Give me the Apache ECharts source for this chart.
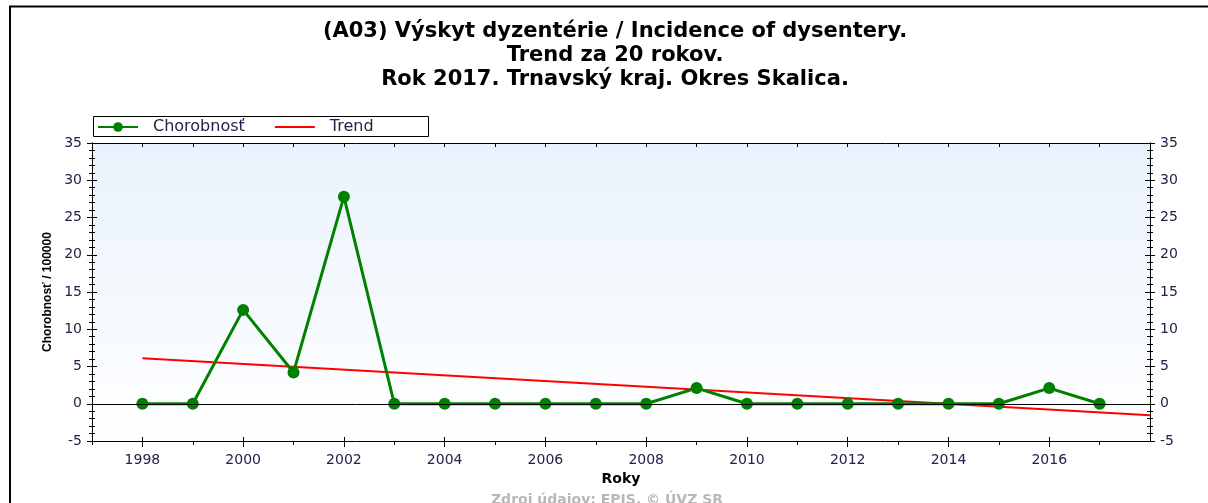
<!DOCTYPE html>
<html>
<head>
<meta charset="utf-8">
<script src="https://cdn.jsdelivr.net/npm/echarts@6/dist/echarts.min.js"></script>
<style>
html,body{margin:0;padding:0;background:#fff;}
#chart{width:1208px;height:503px;}
</style>
</head>
<body>
<div id="chart"></div>
<script>
// ---- data ----
var years = [1998,1999,2000,2001,2002,2003,2004,2005,2006,2007,2008,2009,2010,2011,2012,2013,2014,2015,2016,2017];
var incidence = [0,0,12.6,4.2,27.8,0,0,0,0,0,0,2.1,0,0,0,0,0,0,2.1,0];
var trendYears = [1998, 2018];
var trendValues = [6.1, -1.55];
var labelYears = [1998,2000,2002,2004,2006,2008,2010,2012,2014,2016];
var oddYears = [1997,1999,2001,2003,2005,2007,2009,2011,2013,2015,2017];
var titleLines = ['(A03) Výskyt dyzentérie / Incidence of dysentery.', 'Trend za 20 rokov.', 'Rok 2017. Trnavský kraj. Okres Skalica.'];
var seriesNames = ['Chorobnosť', 'Trend'];
var yAxisName = 'Chorobnosť / 100000';
var xAxisName = 'Roky';
var sourceText = 'Zdroj údajov: EPIS, © ÚVZ SR';

var FONT = '"DejaVu Sans", "Liberation Sans", Arial, sans-serif';
var LBL = '#22224a';

var chart = echarts.init(document.getElementById('chart'), null, {renderer: 'canvas'});

function yAx(pos, showLabel, inside) {
  return {
    type: 'value', position: pos, min: -5, max: 35, interval: 5,
    name: (pos === 'left' && showLabel) ? yAxisName : '',
    nameLocation: 'middle', nameGap: 37,
    nameTextStyle: {fontFamily: '"Liberation Sans", Arial, sans-serif', fontWeight: 'bold', fontSize: 12, color: '#000'},
    axisLine: {show: true, lineStyle: {color: '#000', width: 1}},
    axisTick: {show: true, inside: inside, length: 5, lineStyle: {color: '#000'}},
    minorTick: {show: true, splitNumber: 5, length: 3, lineStyle: {color: '#000'}},
    axisLabel: {show: showLabel, fontFamily: FONT, fontSize: 14, color: LBL, margin: 10},
    splitLine: {show: false}
  };
}

var xData = years.map(function (y, i) { return [y, incidence[i]]; });
var tData = trendYears.map(function (y, i) { return [y, trendValues[i]]; });
var yearFmt = function (v) { return String(v); };

var option = {
  animation: false,
  backgroundColor: '#fff',
  title: {
    text: titleLines.join('\n'),
    left: 610, top: 15, textAlign: 'center',
    textStyle: {fontFamily: FONT, fontWeight: 'bold', fontSize: 21, lineHeight: 24, color: '#000'}
  },
  legend: {
    left: 97, top: 119, padding: 0, itemWidth: 40, itemHeight: 12, itemGap: 30,
    data: [
      {name: seriesNames[0]},
      {name: seriesNames[1], icon: 'path://M0,0H40V2H0Z'}
    ],
    textStyle: {fontFamily: FONT, fontSize: 16, color: LBL, padding: [0, 0, 0, 10]}
  },
  grid: {
    left: 92, right: 58, top: 143, bottom: 62,
    show: true, borderWidth: 0,
    backgroundColor: new echarts.graphic.LinearGradient(0, 0, 0, 1, [
      {offset: 0, color: '#e9f2fc'}, {offset: 1, color: '#ffffff'}
    ])
  },
  xAxis: [
    {
      type: 'value', position: 'bottom', min: 1997, max: 2018, interval: 1,
      name: xAxisName, nameLocation: 'middle', nameGap: 26,
      nameTextStyle: {fontFamily: FONT, fontWeight: 'bold', fontSize: 14, color: '#000'},
      axisLine: {show: true, onZero: false, lineStyle: {color: '#000'}},
      axisTick: {show: true, length: 6, customValues: labelYears, lineStyle: {color: '#000'}},
      axisLabel: {fontFamily: FONT, fontSize: 14, color: LBL, margin: 12, customValues: labelYears, formatter: yearFmt},
      splitLine: {show: false}
    },
    {
      type: 'value', position: 'bottom', min: 1997, max: 2018, interval: 1,
      axisLine: {show: false, onZero: false},
      axisTick: {show: true, length: 4, customValues: oddYears, lineStyle: {color: '#000'}},
      axisLabel: {show: false},
      splitLine: {show: false}
    },
    {
      type: 'value', position: 'bottom', min: 1997, max: 2018, interval: 1,
      axisLine: {show: false, onZero: false},
      axisTick: {show: true, inside: true, length: 4, customValues: labelYears, lineStyle: {color: '#000'}},
      axisLabel: {show: false},
      splitLine: {show: false}
    },
    {
      type: 'value', position: 'top', min: 1997, max: 2018, interval: 1,
      axisLine: {show: true, onZero: false, lineStyle: {color: '#000'}},
      axisTick: {show: true, inside: true, length: 4, lineStyle: {color: '#000'}},
      axisLabel: {show: false},
      splitLine: {show: false}
    }
  ],
  yAxis: [
    yAx('left', true, false),
    yAx('left', false, true),
    yAx('right', true, false),
    yAx('right', false, true)
  ],
  series: [
    {
      name: seriesNames[0], type: 'line', data: xData,
      xAxisIndex: 0, yAxisIndex: 0, z: 4,
      symbol: 'circle', symbolSize: 12,
      lineStyle: {color: '#008000', width: 3},
      itemStyle: {color: '#008000'},
      markLine: {
        silent: true, symbol: 'none', label: {show: false},
        lineStyle: {color: '#000', width: 1, type: 'solid'},
        data: [{yAxis: 0}]
      }
    },
    {
      name: seriesNames[1], type: 'line', data: tData,
      xAxisIndex: 0, yAxisIndex: 0, z: 3,
      symbol: 'none', showSymbol: false,
      lineStyle: {color: '#ff0000', width: 2},
      itemStyle: {color: '#ff0000'}
    }
  ],
  graphic: [
    {type: 'rect', shape: {x: 93.5, y: 116.5, width: 335, height: 20}, style: {fill: 'none', stroke: '#000', lineWidth: 1}, z: 0, silent: true},
    {type: 'line', shape: {x1: 9, y1: 6.5, x2: 1208, y2: 6.5}, style: {stroke: '#000', lineWidth: 2}, silent: true},
    {type: 'line', shape: {x1: 10, y1: 6, x2: 10, y2: 503}, style: {stroke: '#000', lineWidth: 2}, silent: true},
    {type: 'text', x: 607, y: 493, style: {text: sourceText, textAlign: 'center', fill: '#b8b8b8', font: 'bold 14px "DejaVu Sans", Arial, sans-serif'}, silent: true}
  ]
};
chart.setOption(option);
</script>
</body>
</html>
